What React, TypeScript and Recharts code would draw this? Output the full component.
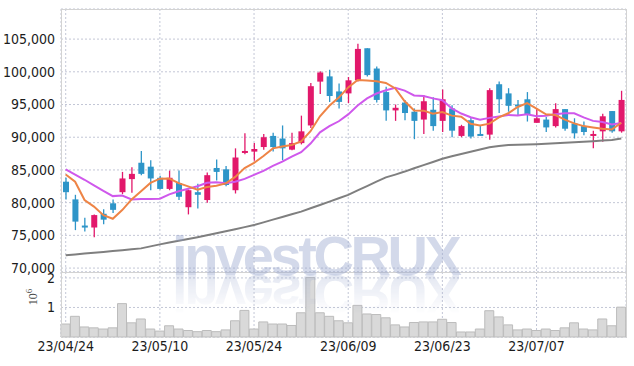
import React from 'react';
import { ComposedChart, Bar, Line, XAxis, YAxis, CartesianGrid } from 'recharts';

// trading days shown on the chart
const dates = [
  '23/04/24', '23/04/25', '23/04/26', '23/04/27', '23/04/28',
  '23/05/02', '23/05/03', '23/05/04', '23/05/08', '23/05/09',
  '23/05/10', '23/05/11', '23/05/12', '23/05/15', '23/05/16',
  '23/05/17', '23/05/18', '23/05/19', '23/05/22', '23/05/23',
  '23/05/24', '23/05/25', '23/05/26', '23/05/30', '23/05/31',
  '23/06/01', '23/06/02', '23/06/05', '23/06/07', '23/06/08',
  '23/06/09', '23/06/12', '23/06/13', '23/06/14', '23/06/15',
  '23/06/16', '23/06/19', '23/06/20', '23/06/21', '23/06/22',
  '23/06/23', '23/06/26', '23/06/27', '23/06/28', '23/06/29',
  '23/06/30', '23/07/03', '23/07/04', '23/07/05', '23/07/06',
  '23/07/07', '23/07/10', '23/07/11', '23/07/12', '23/07/13',
  '23/07/14', '23/07/17', '23/07/18', '23/07/19', '23/07/20',
];
const dateTicks = ['23/04/24', '23/05/10', '23/05/24', '23/06/09', '23/06/23', '23/07/07'];

const openP = [
  83200, 80500, 76500, 76200, 78300, 79900, 81600, 83600, 86100, 85500,
  83800, 82100, 83000, 79300, 81600, 80400, 85300, 85100, 81900, 87800,
  87800, 88500, 90200, 89800, 88100, 89100, 91800, 98500, 99300, 97000,
  96700, 98700, 103600, 100500, 96900, 94100, 95300, 93900, 92700, 94200,
  92500, 94400, 90200, 92600, 90500, 90400, 98100, 96700, 95000, 95800,
  92200, 92700, 91700, 94300, 92100, 91700, 90300, 90900, 94000, 90900,
];
const closeP = [
  81600, 77100, 76200, 78100, 77400, 78900, 83700, 84400, 84400, 83700,
  82100, 83800, 80900, 81900, 81200, 84200, 84700, 82700, 86900, 87900,
  88200, 90000, 88500, 88300, 89100, 90900, 97800, 99900, 96300, 95400,
  98700, 103500, 99500, 95700, 94100, 94500, 93700, 92500, 95500, 91700,
  95800, 91000, 91700, 90100, 90400, 97200, 95800, 94800, 94900, 93400,
  92900, 91500, 94300, 91300, 90600, 90800, 90500, 93200, 90900, 95700,
];
const highP = [
  83800, 81200, 77700, 78200, 79000, 80500, 84700, 85400, 87900, 86500,
  84100, 84900, 84900, 82000, 82900, 84600, 86600, 85600, 88300, 90600,
  89100, 90500, 90700, 91800, 90700, 93300, 98300, 100100, 100300, 98200,
  99200, 104300, 103600, 100800, 97700, 95000, 95700, 94400, 96400, 96100,
  97300, 94900, 91900, 93100, 91800, 97500, 98500, 97500, 95700, 96900,
  94400, 93100, 95200, 94300, 92900, 92400, 91000, 93600, 94000, 97100,
];
const lowP = [
  80500, 75800, 75600, 74700, 76700, 78400, 81300, 81500, 84200, 81900,
  82000, 81900, 80400, 78200, 79100, 80000, 83400, 82500, 81400, 87400,
  86400, 88100, 87800, 86500, 88000, 88900, 91400, 96600, 95400, 94400,
  95200, 98500, 99300, 95300, 92500, 92500, 92600, 89700, 90500, 91000,
  90800, 90000, 90000, 89800, 90300, 89600, 93700, 93900, 93400, 92400,
  92200, 90800, 91500, 91000, 89800, 90300, 88300, 89300, 90700, 90700,
];
const ma5 = [
  84300, 83200, 80400, 79400, 78080, 77540, 78860, 80500, 81760, 83020,
  83660, 83680, 82980, 82480, 81980, 82400, 82580, 82940, 83940, 85280,
  86080, 87140, 88300, 88580, 88820, 89360, 90920, 93200, 94800, 96060,
  97620, 98760, 98680, 98560, 98300, 97460, 95500, 94100, 94060, 93580,
  93840, 93300, 93140, 92060, 91800, 92080, 93040, 93660, 94620, 95220,
  94360, 93500, 93400, 92680, 92120, 91700, 91500, 91280, 91200, 92220,
];
const ma10 = [
  85100, 84300, 83500, 82650, 81800, 81000, 81100, 80500, 80540, 80550,
  80600, 81270, 81740, 82120, 82500, 83030, 83130, 82960, 83210, 83630,
  84240, 84860, 85620, 86260, 87050, 87720, 89030, 90750, 91690, 92440,
  93490, 94840, 95940, 96680, 97180, 97540, 97130, 96390, 96310, 95940,
  95650, 94400, 93620, 93060, 92690, 92960, 93170, 93400, 93340, 93510,
  93220, 93270, 93530, 93650, 93670, 93030, 92500, 92340, 91940, 92170,
];
const maLong = [
  71970, 72090, 72220, 72340, 72470, 72600, 72740, 72870, 73010, 73320,
  73620, 73900, 74170, 74440, 74710, 75010, 75330, 75640, 75950, 76260,
  76570, 76990, 77400, 77810, 78220, 78630, 79140, 79650, 80160, 80670,
  81180, 81880, 82540, 83200, 83860, 84290, 84750, 85260, 85740, 86220,
  86700, 87080, 87430, 87780, 88130, 88480, 88660, 88800, 88850, 88890,
  88940, 89010, 89080, 89160, 89230, 89320, 89400, 89490, 89590, 89810,
];
const volume = [
  440000, 700000, 340000, 310000, 270000, 310000, 1130000, 480000, 610000, 270000,
  200000, 380000, 270000, 220000, 180000, 220000, 180000, 240000, 550000, 900000,
  270000, 510000, 440000, 440000, 390000, 820000, 2010000, 820000, 700000, 550000,
  480000, 1070000, 780000, 760000, 650000, 410000, 340000, 490000, 510000, 510000,
  600000, 490000, 170000, 170000, 270000, 890000, 680000, 410000, 240000, 270000,
  220000, 270000, 220000, 310000, 480000, 270000, 240000, 610000, 380000, 1010000,
];
const priceTicks = [70000, 75000, 80000, 85000, 90000, 95000, 100000, 105000];
const volumeTicks = [1000000, 2000000];

const rows = dates.map((date, i) => ({
  date,
  open: openP[i], close: closeP[i], high: highP[i], low: lowP[i],
  range: [lowP[i], highP[i]],
  ma5: ma5[i], ma10: ma10[i], maLong: maLong[i],
  volume: volume[i],
}));

const UP = '#e2186b';
const DOWN = '#2e95c8';
const GRID = '#c3c7d6';
const FONT = '"Liberation Sans Narrow", "DejaVu Sans Condensed", sans-serif';
const tickStyle = { fontFamily: FONT, fontSize: 14, fill: '#1c1c1c' };

function Candle(props: any) {
  const { x, y, width, height, payload } = props;
  const { open, close, high, low } = payload;
  const color = close >= open ? UP : DOWN;
  const top = Math.min(y, y + height);
  const h = Math.abs(height);
  const k = high === low ? 0 : h / (high - low);
  const yOf = (v: number) => top + (high - v) * k;
  const bTop = yOf(Math.max(open, close));
  const bBot = yOf(Math.min(open, close));
  const cx = x + width / 2;
  return (
    <g>
      <line x1={cx} x2={cx} y1={top} y2={top + h} stroke={color} strokeWidth={1.3} />
      <rect x={x} y={bTop} width={width} height={Math.max(bBot - bTop, 2)} fill={color} />
    </g>
  );
}

const wmStyle: React.CSSProperties = {
  position: 'absolute', left: 172, top: 228, fontFamily: '"Liberation Sans", Arial, sans-serif',
  fontWeight: 700, fontSize: 56, lineHeight: '56px', letterSpacing: -3.4, whiteSpace: 'nowrap',
  pointerEvents: 'none',
};

export default function App() {
  return (
    <div style={{ position: 'absolute', left: 0, top: 0, width: 634, height: 366, background: '#fff', overflow: 'hidden' }}>
      <div style={{ position: 'absolute', left: 0, top: 0 }}>
        <ComposedChart width={634} height={282} data={rows} margin={{ top: 9, right: 8, bottom: 10, left: 0 }}>
          <CartesianGrid stroke={GRID} strokeDasharray="2 2" />
          <XAxis dataKey="date" hide ticks={dateTicks} />
          <YAxis
            domain={[69400, 109600]} ticks={priceTicks} interval={0} width={61} axisLine={false} tickLine={false}
            tickSize={4} tickMargin={2} tick={tickStyle}
            tickFormatter={(v: number) => v.toLocaleString('en-US')}
          />
          <Line dataKey="maLong" stroke="#7f7f7f" strokeWidth={2} dot={false} isAnimationActive={false} />
          <Bar dataKey="range" barSize={6} shape={<Candle />} isAnimationActive={false} />
          <Line dataKey="ma10" stroke="#cf58ec" strokeWidth={2} dot={false} isAnimationActive={false} />
          <Line dataKey="ma5" stroke="#ee8446" strokeWidth={2} dot={false} isAnimationActive={false} />
        </ComposedChart>
      </div>
      <div style={{ position: 'absolute', left: 0, top: 262 }}>
        <ComposedChart width={634} height={104} data={rows} barCategoryGap={0} margin={{ top: 10, right: 8, bottom: 0, left: 0 }}>
          <CartesianGrid stroke={GRID} strokeDasharray="2 2" />
          <XAxis
            dataKey="date" ticks={dateTicks} height={29} axisLine={false} tickLine={false}
            tickSize={0} tickMargin={4} tick={tickStyle} interval={0}
          />
          <YAxis
            domain={[0, 2200000]} ticks={volumeTicks} interval={0} width={61} axisLine={false} tickLine={false}
            tickSize={4} tickMargin={2} tick={tickStyle}
            tickFormatter={(v: number) => String(v / 1000000)}
          />
          <Bar dataKey="volume" fill="#d9d9d9" stroke="#bcbcbc" strokeWidth={1} isAnimationActive={false} />
        </ComposedChart>
      </div>
      {/* frame and panel separator */}
      <div style={{ position: 'absolute', left: 61, top: 9, width: 564, height: 328, borderTop: '1px solid #d3d3d3', borderLeft: '1px solid #d3d3d3', borderRight: '1px solid #d3d3d3', pointerEvents: 'none' }} />
      <div style={{ position: 'absolute', left: 61, top: 272, width: 565, height: 1, background: '#d3d3d3' }} />
      {/* 10^6 unit label */}
      <div style={{ position: 'absolute', left: 14, top: 289, width: 30, height: 16, transform: 'rotate(-90deg)', fontFamily: '"Liberation Serif", serif', fontSize: 12, color: '#444', textAlign: 'center', lineHeight: '16px' }}>
        10<sup style={{ fontSize: 9 }}>6</sup>
      </div>
      {/* watermark */}
      <div style={{ ...wmStyle, color: 'rgba(150,165,205,0.42)' }}>investCRUX</div>
      <div style={{
        ...wmStyle, color: 'rgba(150,165,205,0.28)', transformOrigin: '0 47px', transform: 'scaleY(-1)',
        WebkitMaskImage: 'linear-gradient(to top, rgba(0,0,0,1) 14%, rgba(0,0,0,0) 85%)',
        maskImage: 'linear-gradient(to top, rgba(0,0,0,1) 14%, rgba(0,0,0,0) 85%)',
      }}>investCRUX</div>
    </div>
  );
}
